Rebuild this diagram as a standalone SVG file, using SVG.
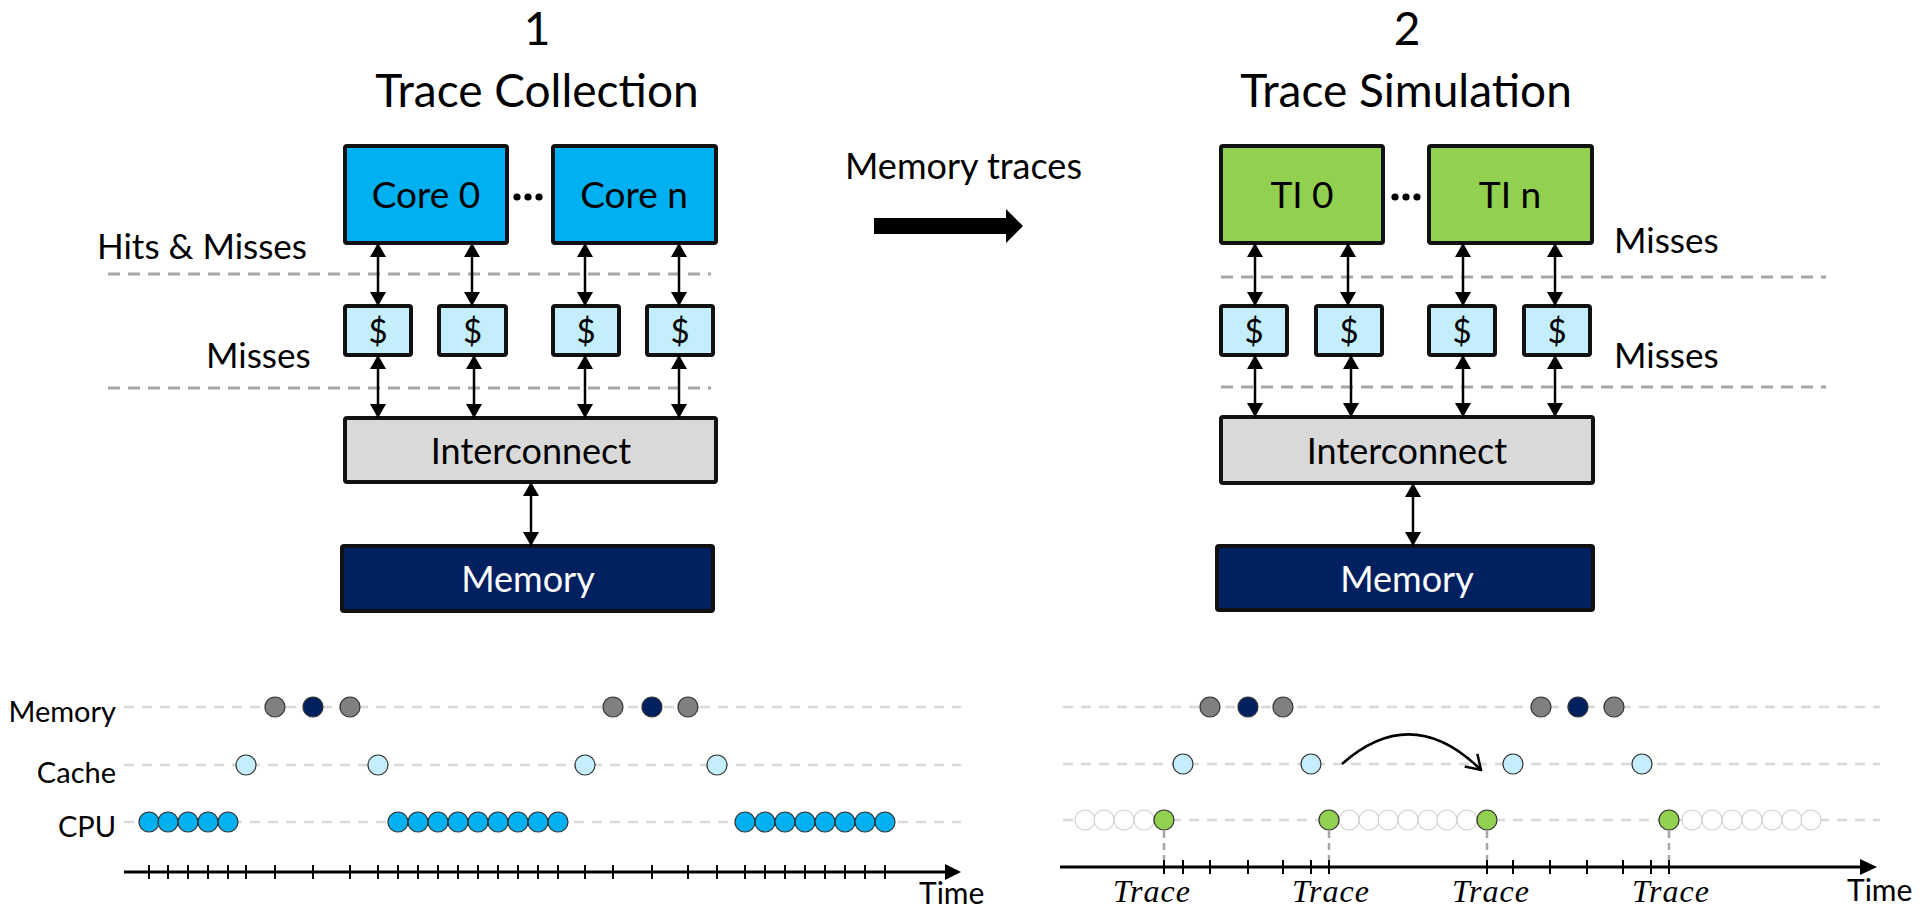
<svg xmlns="http://www.w3.org/2000/svg" width="1930" height="910" viewBox="0 0 1930 910">
  <style>
    .t { font-family: Lato, "Open Sans", "Liberation Sans", sans-serif; fill: #000; }
    .mid { text-anchor: middle; }
    .end { text-anchor: end; }
    .box { stroke: #111; stroke-width: 4; }
    .core { fill: #00B0F0; }
    .ti { fill: #92D050; }
    .cache { fill: #C5EEFC; }
    .ic { fill: #D9D9D9; }
    .mem { fill: #002060; }
    .sep { stroke: #A6A6A6; stroke-width: 3; stroke-dasharray: 12 8; fill: none; }
    .lane { stroke: #D9D9D9; stroke-width: 2.5; stroke-dasharray: 10 8; fill: none; }
    .drop { stroke: #A6A6A6; stroke-width: 2.5; stroke-dasharray: 7 5; fill: none; }
    .link { stroke: #000; stroke-width: 2.5; fill: none; marker-start: url(#head); marker-end: url(#head); }
    .axis { stroke: #000; stroke-width: 3; fill: none; }
    .tick { stroke: #000; stroke-width: 2; }
    .ev { stroke: #333; stroke-width: 1.2; }
    .gray { fill: #808080; }
    .navy { fill: #002060; }
    .light { fill: #C5EEFC; }
    .cpu { fill: #00B0F0; }
    .green { fill: #92D050; }
    .ghost { fill: #fff; stroke: #CFCFCF; stroke-width: 1.1; }
    .math { font-family: "Liberation Serif", "DejaVu Serif", serif; font-style: italic; font-size: 32px; letter-spacing: 1px; text-anchor: middle; fill: #000; }
  </style>
  <defs>
    <marker id="head" viewBox="0 0 14 16" refX="14" refY="8" markerWidth="14" markerHeight="16" markerUnits="userSpaceOnUse" orient="auto-start-reverse">
      <path d="M0,0 L14,8 L0,16 z" fill="#000"/>
    </marker>
    <marker id="chev" viewBox="0 0 20 20" refX="18" refY="10" markerWidth="20" markerHeight="20" markerUnits="userSpaceOnUse" orient="auto">
      <path d="M4,1 L18,10 L4,19" fill="none" stroke="#000" stroke-width="2.5"/>
    </marker>
  </defs>

  <!-- Panel titles -->
  <text class="t mid" x="537" y="45" font-size="46">1</text>
  <text class="t mid" x="537" y="107" font-size="46">Trace Collection</text>
  <text class="t mid" x="1407" y="45" font-size="46">2</text>
  <text class="t mid" x="1406" y="107" font-size="46">Trace Simulation</text>

  <!-- Level separators and labels -->
  <line class="sep" x1="108" y1="274" x2="711" y2="274"/>
  <line class="sep" x1="108" y1="388" x2="711" y2="388"/>
  <line class="sep" x1="1221" y1="277" x2="1826" y2="277"/>
  <line class="sep" x1="1221" y1="387" x2="1826" y2="387"/>
  <text class="t" x="97" y="259" font-size="35">Hits &amp; Misses</text>
  <text class="t" x="206" y="368" font-size="35">Misses</text>
  <text class="t" x="1614" y="253" font-size="35">Misses</text>
  <text class="t" x="1614" y="368" font-size="35">Misses</text>

  <!-- Left system: trace collection -->
  <g id="core0">
    <rect class="box core" x="345" y="146" width="162" height="97" rx="2"/>
    <text class="t mid" x="426" y="208" font-size="37">Core 0</text>
  </g>
  <g id="core-dots">
    <circle cx="517" cy="197" r="3.6"/><circle cx="528" cy="197" r="3.6"/><circle cx="539" cy="197" r="3.6"/>
  </g>
  <g id="coren">
    <rect class="box core" x="553" y="146" width="163" height="97" rx="2"/>
    <text class="t mid" x="634" y="208" font-size="37">Core n</text>
  </g>
  <g id="l-cache0">
    <rect class="box cache" x="345" y="306" width="66" height="49" rx="2"/>
    <text class="t mid" x="378" y="343" font-size="33">$</text>
  </g>
  <g id="l-cache1">
    <rect class="box cache" x="439" y="306" width="67" height="49" rx="2"/>
    <text class="t mid" x="472.5" y="343" font-size="33">$</text>
  </g>
  <g id="l-cache2">
    <rect class="box cache" x="553" y="306" width="66" height="49" rx="2"/>
    <text class="t mid" x="586" y="343" font-size="33">$</text>
  </g>
  <g id="l-cache3">
    <rect class="box cache" x="647" y="306" width="66" height="49" rx="2"/>
    <text class="t mid" x="680" y="343" font-size="33">$</text>
  </g>
  <g id="l-interconnect">
    <rect class="box ic" x="345" y="418" width="371" height="64" rx="2"/>
    <text class="t mid" x="531" y="464" font-size="36">Interconnect</text>
  </g>
  <g id="l-memory">
    <rect class="box mem" x="342" y="546" width="371" height="65" rx="2"/>
    <text class="t mid" x="528" y="592" font-size="36" style="fill:#fff">Memory</text>
  </g>

  <!-- Right system: trace simulation -->
  <g id="ti0">
    <rect class="box ti" x="1221" y="146" width="162" height="97" rx="2"/>
    <text class="t mid" x="1302" y="208" font-size="37">TI 0</text>
  </g>
  <g id="ti-dots">
    <circle cx="1395" cy="197" r="3.6"/><circle cx="1406" cy="197" r="3.6"/><circle cx="1417" cy="197" r="3.6"/>
  </g>
  <g id="tin">
    <rect class="box ti" x="1429" y="146" width="163" height="97" rx="2"/>
    <text class="t mid" x="1510" y="208" font-size="37">TI n</text>
  </g>
  <g id="r-cache0">
    <rect class="box cache" x="1221" y="306" width="66" height="49" rx="2"/>
    <text class="t mid" x="1254" y="343" font-size="33">$</text>
  </g>
  <g id="r-cache1">
    <rect class="box cache" x="1316" y="306" width="66" height="49" rx="2"/>
    <text class="t mid" x="1349" y="343" font-size="33">$</text>
  </g>
  <g id="r-cache2">
    <rect class="box cache" x="1429" y="306" width="66" height="49" rx="2"/>
    <text class="t mid" x="1462" y="343" font-size="33">$</text>
  </g>
  <g id="r-cache3">
    <rect class="box cache" x="1524" y="306" width="66" height="49" rx="2"/>
    <text class="t mid" x="1557" y="343" font-size="33">$</text>
  </g>
  <g id="r-interconnect">
    <rect class="box ic" x="1221" y="417" width="372" height="66" rx="2"/>
    <text class="t mid" x="1407" y="464" font-size="36">Interconnect</text>
  </g>
  <g id="r-memory">
    <rect class="box mem" x="1217" y="546" width="376" height="64" rx="2"/>
    <text class="t mid" x="1407" y="592" font-size="36" style="fill:#fff">Memory</text>
  </g>

  <!-- Hand-off between the two stages -->
  <g id="handoff">
    <text class="t" x="845" y="179" font-size="36">Memory traces</text>
    <polygon points="874,218 1006,218 1006,209 1023,226 1006,243 1006,234 874,234" fill="#000"/>
  </g>

  <!-- Connectors -->
  <g id="connectors">
    <line class="link" x1="378" y1="243" x2="378" y2="306"/>
    <line class="link" x1="472" y1="243" x2="472" y2="306"/>
    <line class="link" x1="585" y1="243" x2="585" y2="306"/>
    <line class="link" x1="679" y1="243" x2="679" y2="306"/>
    <line class="link" x1="378" y1="355" x2="378" y2="418"/>
    <line class="link" x1="474" y1="355" x2="474" y2="418"/>
    <line class="link" x1="585" y1="355" x2="585" y2="418"/>
    <line class="link" x1="679" y1="355" x2="679" y2="418"/>
    <line class="link" x1="531" y1="482" x2="531" y2="546"/>

    <line class="link" x1="1255" y1="243" x2="1255" y2="306"/>
    <line class="link" x1="1348" y1="243" x2="1348" y2="306"/>
    <line class="link" x1="1463" y1="243" x2="1463" y2="306"/>
    <line class="link" x1="1555" y1="243" x2="1555" y2="306"/>
    <line class="link" x1="1255" y1="355" x2="1255" y2="417"/>
    <line class="link" x1="1351" y1="355" x2="1351" y2="417"/>
    <line class="link" x1="1463" y1="355" x2="1463" y2="417"/>
    <line class="link" x1="1555" y1="355" x2="1555" y2="417"/>
    <line class="link" x1="1413" y1="483" x2="1413" y2="546"/>
  </g>

  <!-- Timeline: trace collection -->
  <g id="timeline-collection">
    <text class="t end" x="116" y="722" font-size="29">Memory</text>
    <text class="t end" x="116" y="783" font-size="29">Cache</text>
    <text class="t end" x="116" y="837" font-size="29">CPU</text>
    <line class="lane" x1="124" y1="707" x2="961" y2="707"/>
    <line class="lane" x1="124" y1="765" x2="961" y2="765"/>
    <line class="lane" x1="124" y1="822" x2="961" y2="822"/>

    <line class="axis" x1="124" y1="872" x2="948" y2="872"/>
    <polygon points="945,864 961,872 945,880" fill="#000"/>
    <path class="tick" d="M149,865v14M168,865v14M188,865v14M208,865v14M228,865v14M246,865v14M275,865v14M313,865v14M350,865v14M378,865v14M398,865v14M418,865v14M438,865v14M458,865v14M478,865v14M498,865v14M518,865v14M538,865v14M558,865v14M585,865v14M613,865v14M652,865v14M688,865v14M717,865v14M745,865v14M765,865v14M785,865v14M805,865v14M825,865v14M845,865v14M865,865v14M885,865v14"/>
    <text class="t" x="919" y="904" font-size="30">Time</text>

    <g class="ev">
      <circle class="gray" cx="275" cy="707" r="10"/>
      <circle class="navy" cx="313" cy="707" r="10"/>
      <circle class="gray" cx="350" cy="707" r="10"/>
      <circle class="gray" cx="613" cy="707" r="10"/>
      <circle class="navy" cx="652" cy="707" r="10"/>
      <circle class="gray" cx="688" cy="707" r="10"/>

      <circle class="light" cx="246" cy="765" r="10"/>
      <circle class="light" cx="378" cy="765" r="10"/>
      <circle class="light" cx="585" cy="765" r="10"/>
      <circle class="light" cx="717" cy="765" r="10"/>

      <circle class="cpu" cx="149" cy="822" r="10"/>
      <circle class="cpu" cx="168" cy="822" r="10"/>
      <circle class="cpu" cx="188" cy="822" r="10"/>
      <circle class="cpu" cx="208" cy="822" r="10"/>
      <circle class="cpu" cx="228" cy="822" r="10"/>

      <circle class="cpu" cx="398" cy="822" r="10"/>
      <circle class="cpu" cx="418" cy="822" r="10"/>
      <circle class="cpu" cx="438" cy="822" r="10"/>
      <circle class="cpu" cx="458" cy="822" r="10"/>
      <circle class="cpu" cx="478" cy="822" r="10"/>
      <circle class="cpu" cx="498" cy="822" r="10"/>
      <circle class="cpu" cx="518" cy="822" r="10"/>
      <circle class="cpu" cx="538" cy="822" r="10"/>
      <circle class="cpu" cx="558" cy="822" r="10"/>

      <circle class="cpu" cx="745" cy="822" r="10"/>
      <circle class="cpu" cx="765" cy="822" r="10"/>
      <circle class="cpu" cx="785" cy="822" r="10"/>
      <circle class="cpu" cx="805" cy="822" r="10"/>
      <circle class="cpu" cx="825" cy="822" r="10"/>
      <circle class="cpu" cx="845" cy="822" r="10"/>
      <circle class="cpu" cx="865" cy="822" r="10"/>
      <circle class="cpu" cx="885" cy="822" r="10"/>
    </g>
  </g>

  <!-- Timeline: trace simulation -->
  <g id="timeline-simulation">
    <line class="lane" x1="1063" y1="707" x2="1880" y2="707"/>
    <line class="lane" x1="1063" y1="764" x2="1880" y2="764"/>
    <line class="lane" x1="1063" y1="820" x2="1880" y2="820"/>

    <line class="drop" x1="1164" y1="831" x2="1164" y2="860"/>
    <line class="drop" x1="1329" y1="831" x2="1329" y2="860"/>
    <line class="drop" x1="1487" y1="831" x2="1487" y2="860"/>
    <line class="drop" x1="1669" y1="831" x2="1669" y2="860"/>

    <line class="axis" x1="1060" y1="867" x2="1863" y2="867"/>
    <polygon points="1860,859 1877,867 1860,875" fill="#000"/>
    <path class="tick" d="M1164,860v14M1183,860v14M1210,860v14M1248,860v14M1283,860v14M1311,860v14M1329,860v14M1487,860v14M1513,860v14M1550,860v14M1587,860v14M1623,860v14M1651,860v14M1669,860v14"/>
    <text class="t" x="1847" y="901" font-size="30">Time</text>

    <text class="math" x="1152" y="902">Trace</text>
    <text class="math" x="1331" y="902">Trace</text>
    <text class="math" x="1491" y="902">Trace</text>
    <text class="math" x="1671" y="902">Trace</text>

    <g class="ghost">
      <circle cx="1085" cy="820" r="10"/>
      <circle cx="1104" cy="820" r="10"/>
      <circle cx="1124" cy="820" r="10"/>
      <circle cx="1144" cy="820" r="10"/>
      <circle cx="1349" cy="820" r="10"/>
      <circle cx="1369" cy="820" r="10"/>
      <circle cx="1388" cy="820" r="10"/>
      <circle cx="1408" cy="820" r="10"/>
      <circle cx="1428" cy="820" r="10"/>
      <circle cx="1447" cy="820" r="10"/>
      <circle cx="1467" cy="820" r="10"/>
      <circle cx="1692" cy="820" r="10"/>
      <circle cx="1712" cy="820" r="10"/>
      <circle cx="1732" cy="820" r="10"/>
      <circle cx="1752" cy="820" r="10"/>
      <circle cx="1772" cy="820" r="10"/>
      <circle cx="1792" cy="820" r="10"/>
      <circle cx="1811" cy="820" r="10"/>
    </g>

    <g class="ev">
      <circle class="gray" cx="1210" cy="707" r="10"/>
      <circle class="navy" cx="1248" cy="707" r="10"/>
      <circle class="gray" cx="1283" cy="707" r="10"/>
      <circle class="gray" cx="1541" cy="707" r="10"/>
      <circle class="navy" cx="1578" cy="707" r="10"/>
      <circle class="gray" cx="1614" cy="707" r="10"/>

      <circle class="light" cx="1183" cy="764" r="10"/>
      <circle class="light" cx="1311" cy="764" r="10"/>
      <circle class="light" cx="1513" cy="764" r="10"/>
      <circle class="light" cx="1642" cy="764" r="10"/>

      <circle class="green" cx="1164" cy="820" r="10"/>
      <circle class="green" cx="1329" cy="820" r="10"/>
      <circle class="green" cx="1487" cy="820" r="10"/>
      <circle class="green" cx="1669" cy="820" r="10"/>
    </g>

    <!-- skip-ahead jump -->
    <path d="M1342,764 Q1412,702 1481,770" fill="none" stroke="#000" stroke-width="2.5" marker-end="url(#chev)"/>
  </g>
</svg>
